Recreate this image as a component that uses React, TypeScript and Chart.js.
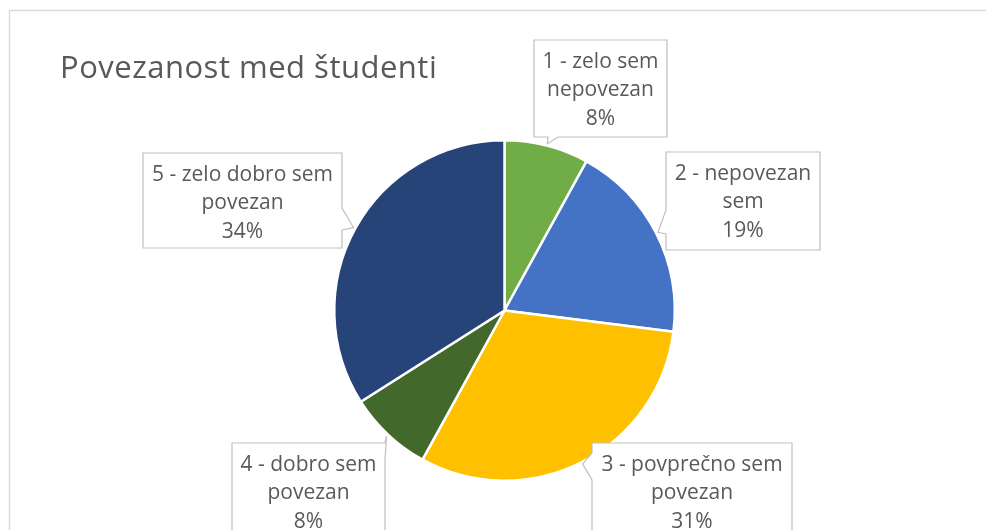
import React, { useEffect, useRef } from "react";
import { Chart, registerables } from "chart.js";

Chart.register(...registerables);

const TITLE = "Povezanost med študenti";
const categories = [
  "1 - zelo sem nepovezan",
  "2 - nepovezan sem",
  "3 - povprečno sem povezan",
  "4 - dobro sem povezan",
  "5 - zelo dobro sem povezan",
];
const values = [8, 19, 31, 8, 34];
const percentLabels = ["8%", "19%", "31%", "8%", "34%"];
const colors = ["#70AD47", "#4472C4", "#FFC000", "#43682B", "#264478"];

const FONT = "'Open Sans', 'Liberation Sans', sans-serif";
const TEXT_COLOR = "#595959";

// callout boxes (layout only): [x, y, w, h], side of the tail, tail base range
const callouts = [
  { box: [534, 40, 133, 97], side: "bottom", base: [548, 558] },
  { box: [666, 152, 154, 98], side: "left", base: [210, 234] },
  { box: [592, 443, 200, 98], side: "left", base: [453, 480] },
  { box: [232, 443, 153, 98], side: "right", base: [443, 460] },
  { box: [143, 153, 199, 95], side: "right", base: [208, 230] },
];

function wrap(ctx: CanvasRenderingContext2D, text: string, maxW: number): string[] {
  const words = text.split(" ");
  const lines: string[] = [];
  let cur = "";
  for (const w of words) {
    const t = cur ? cur + " " + w : w;
    if (ctx.measureText(t).width > maxW && cur) {
      lines.push(cur);
      cur = w;
    } else cur = t;
  }
  if (cur) lines.push(cur);
  return lines;
}

const decorPlugin = {
  id: "decor",
  beforeDraw(chart: any) {
    const ctx = chart.ctx as CanvasRenderingContext2D;
    ctx.save();
    ctx.fillStyle = "#ffffff";
    ctx.fillRect(0, 0, chart.width, chart.height);
    ctx.strokeStyle = "#d9d9d9";
    ctx.lineWidth = 1.5;
    ctx.beginPath();
    ctx.moveTo(9.5, chart.height + 5);
    ctx.lineTo(9.5, 10.5);
    ctx.lineTo(chart.width + 5, 10.5);
    ctx.stroke();
    ctx.fillStyle = TEXT_COLOR;
    ctx.font = `31px ${FONT}`;
    (ctx as any).letterSpacing = "0.5px";
    ctx.textBaseline = "alphabetic";
    ctx.textAlign = "left";
    ctx.fillText(TITLE, 60, 78);
    (ctx as any).letterSpacing = "0px";
    ctx.restore();
  },
  afterDraw(chart: any) {
    const ctx = chart.ctx as CanvasRenderingContext2D;
    const meta = chart.getDatasetMeta(0);
    ctx.save();
    meta.data.forEach((arc: any, i: number) => {
      const p = arc.getProps(["x", "y", "startAngle", "endAngle", "outerRadius"], true);
      const mid = (p.startAngle + p.endAngle) / 2;
      const tx = p.x + Math.cos(mid) * (p.outerRadius + 2);
      const ty = p.y + Math.sin(mid) * (p.outerRadius + 2);
      const c = callouts[i];
      const [x, y, w, h] = c.box;
      const [b1, b2] = c.base;
      ctx.beginPath();
      ctx.moveTo(x, y);
      if (c.side === "top") {
        ctx.lineTo(b1, y);
        ctx.lineTo(tx, ty);
        ctx.lineTo(b2, y);
      }
      ctx.lineTo(x + w, y);
      if (c.side === "right") {
        ctx.lineTo(x + w, b1);
        ctx.lineTo(tx, ty);
        ctx.lineTo(x + w, b2);
      }
      ctx.lineTo(x + w, y + h);
      if (c.side === "bottom") {
        ctx.lineTo(b2, y + h);
        ctx.lineTo(tx, ty);
        ctx.lineTo(b1, y + h);
      }
      ctx.lineTo(x, y + h);
      if (c.side === "left") {
        ctx.lineTo(x, b2);
        ctx.lineTo(tx, ty);
        ctx.lineTo(x, b1);
      }
      ctx.closePath();
      ctx.fillStyle = "#ffffff";
      ctx.fill();
      ctx.strokeStyle = "#bfbfbf";
      ctx.lineWidth = 1.2;
      ctx.stroke();

      ctx.font = `21px ${FONT}`;
      ctx.fillStyle = TEXT_COLOR;
      ctx.textAlign = "center";
      ctx.textBaseline = "middle";
      const lines = wrap(ctx, categories[i], w - 12);
      lines.push(percentLabels[i]);
      lines.forEach((ln, k) => {
        ctx.fillText(ln, x + w / 2, y + 22 + k * 28.5);
      });
    });
    ctx.restore();
  },
};

export default function App() {
  const ref = useRef<HTMLCanvasElement | null>(null);
  useEffect(() => {
    if (!ref.current) return;
    const chart = new Chart(ref.current, {
      type: "pie",
      data: {
        labels: categories,
        datasets: [
          {
            data: values,
            backgroundColor: colors,
            borderColor: "#ffffff",
            borderWidth: 2.5,
          },
        ],
      },
      options: {
        responsive: false,
        animation: false,
        layout: { padding: { left: 333, right: 310, top: 139, bottom: 48 } },
        plugins: {
          legend: { display: false },
          title: { display: false },
          tooltip: { enabled: false },
        },
      },
      plugins: [decorPlugin],
    });
    return () => chart.destroy();
  }, []);
  return (
    <div style={{ position: "absolute", left: 0, top: 0, width: 986, height: 530 }}>
      <canvas ref={ref} width={986} height={530} style={{ display: "block" }} />
    </div>
  );
}
